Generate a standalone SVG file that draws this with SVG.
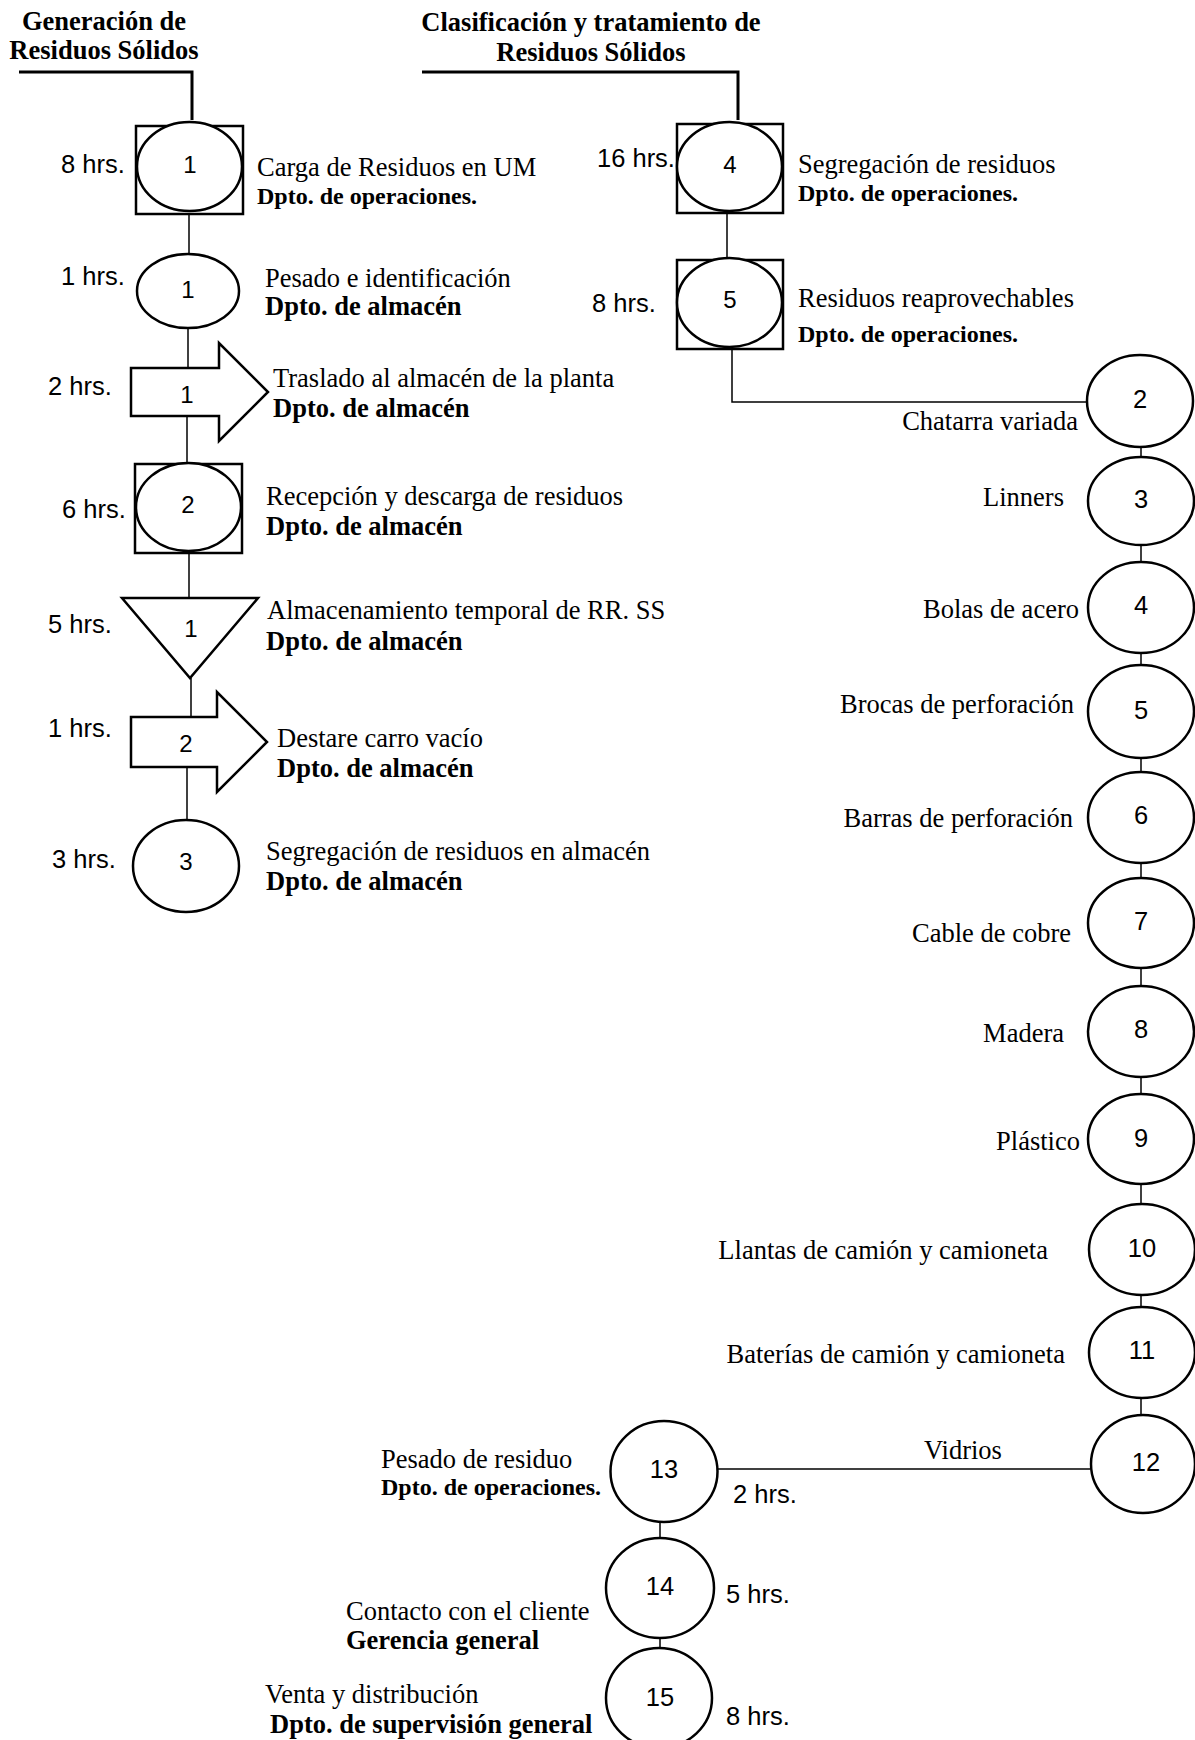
<svg xmlns="http://www.w3.org/2000/svg" width="1195" height="1740" viewBox="0 0 1195 1740">
<style>
.bg{fill:#fff}
.s{fill:#fff;stroke:#000;stroke-width:2.5}
.c{fill:none;stroke:#000;stroke-width:1.5}
.h{fill:none;stroke:#000;stroke-width:3}
.t{font-family:"Liberation Serif","Times New Roman",serif;font-size:26.5px;fill:#000}
.b{font-weight:bold}
.o{font-size:24px}
.ti{font-family:"Liberation Serif","Times New Roman",serif;font-size:26.5px;font-weight:bold;text-anchor:middle;fill:#000}
.e{text-anchor:end}
.a{font-family:"Liberation Sans",Arial,sans-serif;font-size:25.5px;fill:#000}
.n{font-family:"Liberation Sans",Arial,sans-serif;font-size:24px;text-anchor:middle;fill:#000}
.r{font-size:25.5px}
</style>
<rect class="bg" x="0" y="0" width="1195" height="1740"/>

<g id="titles">
<text class="ti" x="104" y="30">Generación de</text>
<text class="ti" x="104" y="59">Residuos Sólidos</text>
<text class="ti" x="591" y="31">Clasificación y tratamiento de</text>
<text class="ti" x="591" y="61">Residuos Sólidos</text>
</g>

<g id="connectors">
<polyline class="h" points="19,72 192,72 192,120"/>
<polyline class="h" points="422,72 738,72 738,120"/>
<line class="c" x1="189" y1="214" x2="189" y2="254"/>
<line class="c" x1="188" y1="328" x2="188" y2="368"/>
<line class="c" x1="187" y1="416" x2="187" y2="464"/>
<line class="c" x1="189" y1="553" x2="189" y2="598"/>
<line class="c" x1="191" y1="678" x2="191" y2="717"/>
<line class="c" x1="187" y1="766" x2="187" y2="820"/>
<line class="c" x1="727" y1="213" x2="727" y2="259"/>
<polyline class="c" points="732,349 732,402 1088,402"/>
<line class="c" x1="1141" y1="447" x2="1141" y2="457"/>
<line class="c" x1="1141" y1="545" x2="1141" y2="562"/>
<line class="c" x1="1141" y1="653" x2="1141" y2="665"/>
<line class="c" x1="1141" y1="758" x2="1141" y2="772"/>
<line class="c" x1="1141" y1="863" x2="1141" y2="878"/>
<line class="c" x1="1141" y1="968" x2="1141" y2="986"/>
<line class="c" x1="1141" y1="1077" x2="1141" y2="1094"/>
<line class="c" x1="1141" y1="1184" x2="1141" y2="1204"/>
<line class="c" x1="1141" y1="1295" x2="1141" y2="1307"/>
<line class="c" x1="1141" y1="1398" x2="1141" y2="1414"/>
<line class="c" x1="717" y1="1469" x2="1090" y2="1469"/>
<line class="c" x1="660" y1="1522" x2="660" y2="1538"/>
<line class="c" x1="660" y1="1638" x2="660" y2="1648"/>
</g>

<g id="op1-carga">
<rect class="s" x="136" y="126" width="107" height="88"/>
<ellipse class="s" cx="189.5" cy="166.5" rx="52.5" ry="44.5"/>
<text class="n" x="190" y="173">1</text>
<text class="a" x="61" y="173">8 hrs.</text>
<text class="t" x="257" y="176">Carga de Residuos en UM</text>
<text class="t b o" x="257" y="204">Dpto. de operaciones.</text>
</g>

<g id="op1-pesado">
<ellipse class="s" cx="188" cy="291" rx="51" ry="37"/>
<text class="n" x="188" y="298">1</text>
<text class="a" x="61" y="285">1 hrs.</text>
<text class="t" x="265" y="287">Pesado e identificación</text>
<text class="t b" x="265" y="315">Dpto. de almacén</text>
</g>

<g id="tr1-traslado">
<polygon class="s" points="131,368 219,368 219,343 268,392 219,441 219,416 131,416"/>
<text class="n" x="187" y="403">1</text>
<text class="a" x="48" y="395">2 hrs.</text>
<text class="t" x="273" y="387">Traslado al almacén de la planta</text>
<text class="t b" x="273" y="417">Dpto. de almacén</text>
</g>

<g id="op2-recepcion">
<rect class="s" x="135" y="464" width="107" height="89"/>
<ellipse class="s" cx="188.5" cy="507" rx="52.5" ry="44"/>
<text class="n" x="188" y="513">2</text>
<text class="a" x="62" y="518">6 hrs.</text>
<text class="t" x="266" y="505">Recepción y descarga de residuos</text>
<text class="t b" x="266" y="535">Dpto. de almacén</text>
</g>

<g id="st1-almacenamiento">
<polygon class="s" points="122,598 258,598 190,678"/>
<text class="n" x="191" y="637">1</text>
<text class="a" x="48" y="633">5 hrs.</text>
<text class="t" x="267" y="619">Almacenamiento temporal de RR. SS</text>
<text class="t b" x="266" y="650">Dpto. de almacén</text>
</g>

<g id="tr2-destare">
<polygon class="s" points="131,717 217,717 217,692 267,742 217,792 217,767 131,767"/>
<text class="n" x="186" y="752">2</text>
<text class="a" x="48" y="737">1 hrs.</text>
<text class="t" x="277" y="747">Destare carro vacío</text>
<text class="t b" x="277" y="777">Dpto. de almacén</text>
</g>

<g id="op3-segregacion">
<ellipse class="s" cx="186" cy="866" rx="53" ry="46"/>
<text class="n" x="186" y="870">3</text>
<text class="a" x="52" y="868">3 hrs.</text>
<text class="t" x="266" y="860">Segregación de residuos en almacén</text>
<text class="t b" x="266" y="890">Dpto. de almacén</text>
</g>

<g id="op4-segregacion">
<rect class="s" x="677" y="124" width="106" height="89"/>
<ellipse class="s" cx="729.5" cy="166.5" rx="52.5" ry="44.5"/>
<text class="n" x="730" y="173">4</text>
<text class="a" x="597" y="167">16 hrs.</text>
<text class="t" x="798" y="173">Segregación de residuos</text>
<text class="t b o" x="798" y="201">Dpto. de operaciones.</text>
</g>

<g id="op5-reaprovechables">
<rect class="s" x="677" y="260" width="106" height="89"/>
<ellipse class="s" cx="729.5" cy="302.5" rx="52.5" ry="44.5"/>
<text class="n" x="730" y="308">5</text>
<text class="a" x="592" y="312">8 hrs.</text>
<text class="t" x="798" y="307">Residuos reaprovechables</text>
<text class="t b o" x="798" y="342">Dpto. de operaciones.</text>
</g>

<g id="c2"><ellipse class="s" cx="1140" cy="401" rx="53" ry="46"/><text class="n r" x="1140" y="408">2</text><text class="t e" x="1078" y="430">Chatarra variada</text></g>
<g id="c3"><ellipse class="s" cx="1141" cy="501" rx="53" ry="44"/><text class="n r" x="1141" y="508">3</text><text class="t e" x="1064" y="506">Linners</text></g>
<g id="c4"><ellipse class="s" cx="1141" cy="607.5" rx="53" ry="45.5"/><text class="n r" x="1141" y="614">4</text><text class="t e" x="1079" y="618">Bolas de acero</text></g>
<g id="c5"><ellipse class="s" cx="1141" cy="711.5" rx="53" ry="46.5"/><text class="n r" x="1141" y="719">5</text><text class="t e" x="1074" y="713">Brocas de perforación</text></g>
<g id="c6"><ellipse class="s" cx="1141" cy="817.5" rx="53" ry="45.5"/><text class="n r" x="1141" y="824">6</text><text class="t e" x="1073" y="827">Barras de perforación</text></g>
<g id="c7"><ellipse class="s" cx="1141" cy="923" rx="53" ry="45"/><text class="n r" x="1141" y="930">7</text><text class="t e" x="1071" y="942">Cable de cobre</text></g>
<g id="c8"><ellipse class="s" cx="1141" cy="1031.5" rx="53" ry="45.5"/><text class="n r" x="1141" y="1038">8</text><text class="t e" x="1064" y="1042">Madera</text></g>
<g id="c9"><ellipse class="s" cx="1141" cy="1139" rx="53" ry="45"/><text class="n r" x="1141" y="1147">9</text><text class="t e" x="1080" y="1150">Plástico</text></g>
<g id="c10"><ellipse class="s" cx="1142" cy="1249.5" rx="53" ry="45.5"/><text class="n r" x="1142" y="1257">10</text><text class="t e" x="1048" y="1259">Llantas de camión y camioneta</text></g>
<g id="c11"><ellipse class="s" cx="1142" cy="1352.5" rx="53" ry="45.5"/><text class="n r" x="1142" y="1359">11</text><text class="t e" x="1065" y="1363">Baterías de camión y camioneta</text></g>
<g id="c12"><ellipse class="s" cx="1143" cy="1464" rx="52" ry="49"/><text class="n r" x="1146" y="1471">12</text><text class="t" x="924" y="1459">Vidrios</text></g>

<g id="c13"><ellipse class="s" cx="664" cy="1471.5" rx="53.5" ry="50.5"/><text class="n r" x="664" y="1478">13</text><text class="a" x="733" y="1503">2 hrs.</text><text class="t" x="381" y="1468">Pesado de residuo</text><text class="t b o" x="381" y="1495">Dpto. de operaciones.</text></g>
<g id="c14"><ellipse class="s" cx="660" cy="1588" rx="54" ry="50"/><text class="n r" x="660" y="1595">14</text><text class="a" x="726" y="1603">5 hrs.</text><text class="t" x="346" y="1620">Contacto con el cliente</text><text class="t b" x="346" y="1649">Gerencia general</text></g>
<g id="c15"><ellipse class="s" cx="659" cy="1698" rx="53" ry="50"/><text class="n r" x="660" y="1706">15</text><text class="a" x="726" y="1725">8 hrs.</text><text class="t" x="265" y="1703">Venta y distribución</text><text class="t b" x="270" y="1733">Dpto. de supervisión general</text></g>
</svg>
